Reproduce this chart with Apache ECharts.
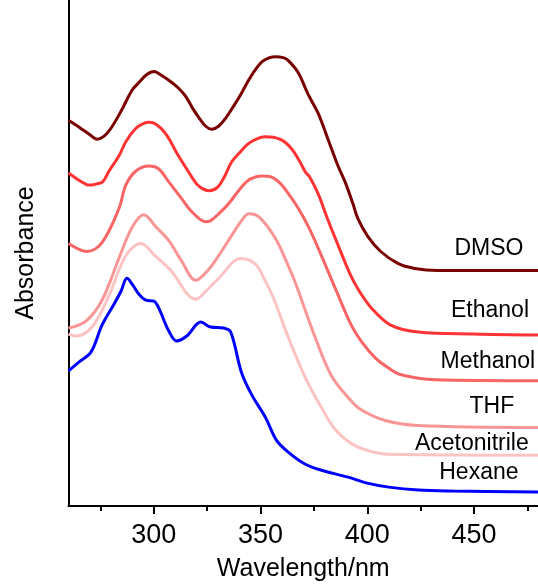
<!DOCTYPE html>
<html>
<head>
<meta charset="utf-8">
<script src="https://cdn.jsdelivr.net/npm/echarts@6/dist/echarts.min.js"></script>
<style>
  html, body { margin: 0; padding: 0; background: #fff; }
  #chart { width: 538px; height: 587px; }
</style>
</head>
<body>
<div id="chart"></div>
<script>
// UV-vis absorption spectra in different solvents (offset, arbitrary units)

var majorTicks = [300, 350, 400, 450];
var minorTicks = [275, 325, 375, 425, 475];

var solventNames = ['DMSO', 'Ethanol', 'Methanol', 'THF', 'Acetonitrile', 'Hexane'];
var solventColors = ['#7a0000', '#ff3333', '#f96464', '#f99595', '#fcc3c3', '#0000ff'];

// [wavelength nm, absorbance]
var dmso = [[260,3.88],[265,3.81],[269.7,3.74],[273.4,3.69],[276.7,3.72],[279.9,3.80],[284.6,3.97],[289.7,4.18],[293,4.26],[296.7,4.34],[300,4.37],[303.7,4.33],[308.4,4.26],[311.7,4.20],[314.9,4.12],[318.2,4.00],[321,3.91],[324.3,3.82],[327.1,3.79],[330.3,3.82],[333.6,3.90],[337.3,4.02],[341,4.15],[344.3,4.28],[347.6,4.39],[351.3,4.48],[356.9,4.52],[360.6,4.51],[363,4.48],[367.6,4.36],[372.3,4.14],[377,3.95],[381.6,3.69],[386.3,3.42],[389.6,3.26],[393.3,3.04],[395.6,2.89],[400.3,2.71],[406.3,2.56],[414.3,2.44],[422.2,2.39],[432.9,2.37],[480,2.37]];
var ethanol = [[260,3.35],[264,3.29],[267,3.25],[269,3.23],[271,3.23],[273,3.24],[276,3.26],[279,3.37],[283.6,3.52],[287,3.67],[291.6,3.80],[295.3,3.85],[298,3.86],[301,3.84],[305,3.76],[308,3.66],[311,3.54],[316,3.37],[320,3.24],[323,3.19],[326,3.17],[330,3.21],[333,3.31],[336.4,3.46],[340,3.55],[344,3.64],[348,3.69],[352,3.715],[356,3.71],[360,3.68],[363,3.63],[366,3.55],[369,3.44],[371,3.36],[373,3.31],[377,3.14],[381,2.91],[386,2.64],[392,2.33],[396,2.17],[402,1.99],[411,1.82],[424,1.75],[450,1.73],[480,1.72]];
var methanol = [[260,2.64],[268.7,2.56],[275.7,2.65],[283.6,2.99],[286.9,3.23],[291.6,3.37],[297.7,3.42],[302.3,3.39],[307,3.26],[313.1,3.09],[317.8,2.96],[324.3,2.86],[326.6,2.87],[330.4,2.94],[335,3.04],[341.1,3.21],[345.3,3.29],[350.5,3.32],[355,3.31],[359,3.25],[363.1,3.14],[367.8,2.99],[372.4,2.81],[377.1,2.59],[385,2.19],[392.5,1.82],[398.1,1.63],[403.7,1.49],[409.8,1.39],[415.9,1.32],[431.8,1.27],[480,1.26]];
var thf = [[260,1.79],[268.2,1.86],[275.7,2.07],[283.6,2.49],[289.7,2.80],[295.3,2.93],[300.9,2.81],[307,2.67],[313.1,2.46],[319.6,2.27],[325.7,2.38],[330.4,2.52],[336.4,2.72],[341.1,2.87],[344.4,2.94],[349.1,2.91],[357,2.69],[363.1,2.41],[366.4,2.24],[375.7,1.69],[383.2,1.31],[391.1,1.09],[397,0.97],[408.4,0.86],[423.8,0.81],[480,0.79]];
var acetonitrile = [[260,1.73],[263.6,1.71],[271,1.80],[279,2.12],[286.9,2.52],[293.9,2.64],[300.9,2.51],[307.9,2.37],[319.6,2.08],[325.7,2.19],[330.4,2.29],[340.7,2.49],[347.7,2.43],[352.3,2.26],[356.1,2.09],[363.1,1.69],[371,1.29],[378.5,0.99],[385,0.77],[392.5,0.63],[400,0.56],[410,0.52],[480,0.51]];
var hexane = [[260,1.36],[265,1.45],[270.6,1.55],[275.7,1.82],[281.3,2.03],[284.6,2.16],[287.4,2.29],[290.2,2.22],[293,2.13],[296.3,2.07],[300,2.06],[302.3,1.99],[307,1.76],[310.7,1.66],[315.4,1.71],[322,1.85],[326.6,1.80],[332.7,1.79],[336,1.75],[341.1,1.34],[345.8,1.12],[352.3,0.89],[357.5,0.66],[363.1,0.54],[371,0.42],[378.5,0.36],[391,0.29],[400,0.23],[410,0.19],[424,0.16],[440,0.15],[480,0.14]];

// where each solvent name sits [wavelength, absorbance]
var labelPos = [[457,2.59],[457.5,1.97],[456.5,1.45],[458.4,1.00],[449,0.63],[452.3,0.34]];

var spectra = [dmso, ethanol, methanol, thf, acetonitrile, hexane];

var font = 'Liberation Sans, Arial, sans-serif';

var series = spectra.map(function (d, i) {
    return {
        name: solventNames[i],
        type: 'line',
        data: d,
        smooth: 0.35,
        showSymbol: false,
        clip: true,
        lineStyle: { color: solventColors[i], width: 3 },
        markPoint: {
            symbol: 'circle',
            symbolSize: 0,
            silent: true,
            label: {
                show: true,
                position: 'inside',
                color: '#000',
                fontFamily: font,
                fontSize: 23,
                formatter: solventNames[i]
            },
            data: [{ coord: labelPos[i] }]
        }
    };
});

var myChart = echarts.init(document.getElementById('chart'));
var option = {
    animation: false,
    grid: { left: 68.5, right: -3, top: 0, bottom: 78 },
    xAxis: [
        {
            type: 'value',
            min: 260,
            max: 480,
            name: 'Wavelength/nm',
            nameLocation: 'middle',
            nameGap: 51,
            nameTextStyle: { color: '#000', fontSize: 25, fontFamily: font },
            axisLine: { lineStyle: { color: '#000', width: 2 } },
            axisTick: { customValues: majorTicks, length: 8, lineStyle: { color: '#000', width: 2 } },
            axisLabel: { customValues: majorTicks, color: '#000', fontSize: 27, fontFamily: font, margin: 16 },
            splitLine: { show: false }
        },
        {
            type: 'value',
            min: 260,
            max: 480,
            position: 'bottom',
            axisLine: { show: false },
            axisTick: { customValues: minorTicks, length: 5, lineStyle: { color: '#000', width: 2 } },
            axisLabel: { show: false },
            splitLine: { show: false }
        }
    ],
    yAxis: {
        type: 'value',
        min: 0,
        max: 5.09,
        name: 'Absorbance',
        nameLocation: 'middle',
        nameGap: 30,
        nameTextStyle: { color: '#000', fontSize: 25, fontFamily: font },
        axisLine: { show: true, lineStyle: { color: '#000', width: 2 } },
        axisTick: { show: false },
        axisLabel: { show: false },
        splitLine: { show: false }
    },
    series: series
};
myChart.setOption(option);
</script>
</body>
</html>
